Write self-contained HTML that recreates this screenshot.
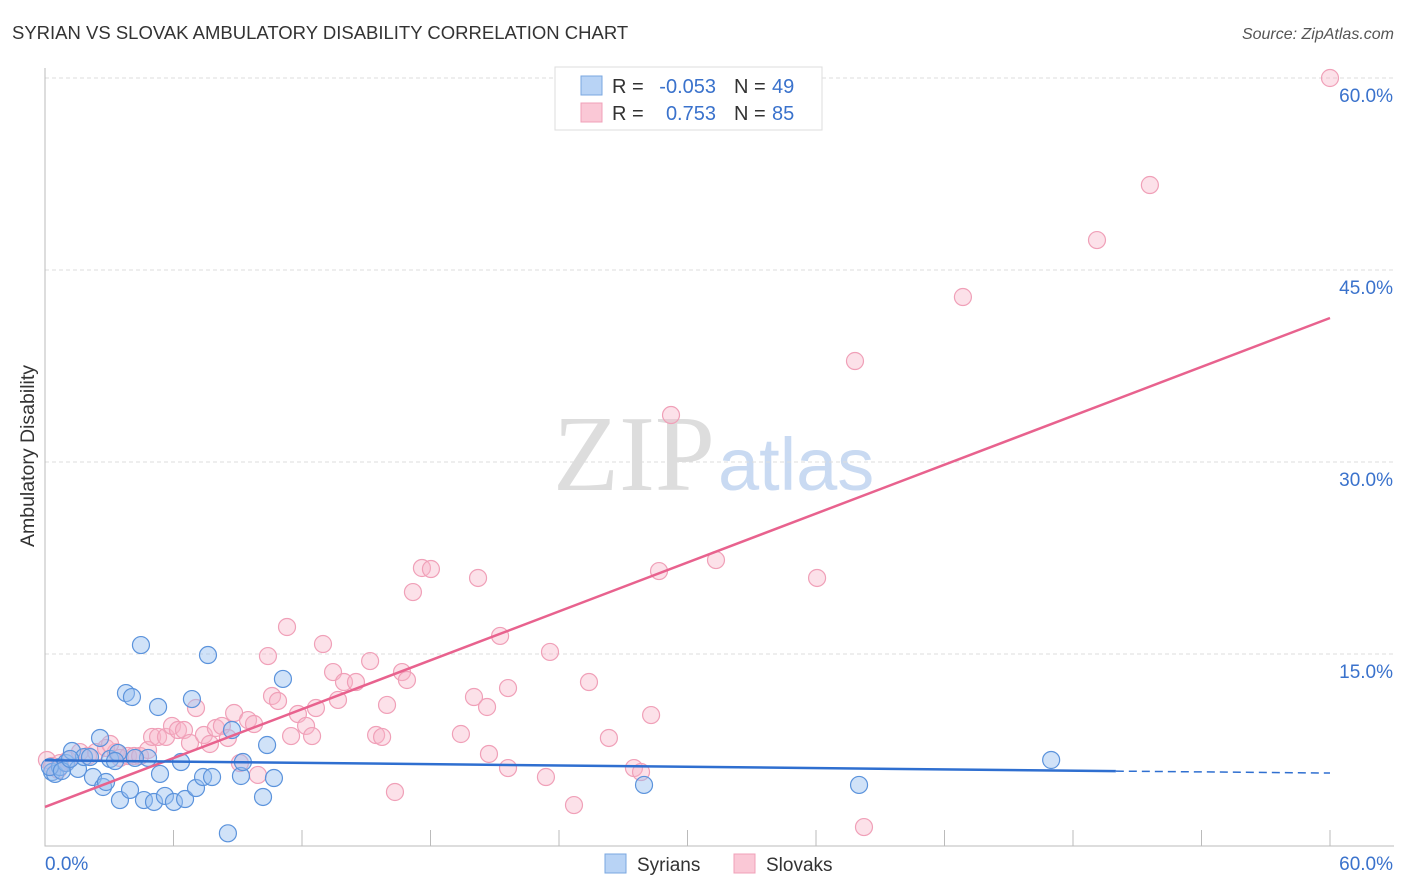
<!DOCTYPE html>
<html><head><meta charset="utf-8"><style>
body{margin:0;background:#fff;font-family:"Liberation Sans",sans-serif;}
svg{display:block}
</style></head><body>
<svg id="c" width="1406" height="892">
<text x="12" y="39" font-size="18.5" fill="#333">SYRIAN VS SLOVAK AMBULATORY DISABILITY CORRELATION CHART</text>
<text x="1394" y="39" font-size="16" fill="#555" font-style="italic" text-anchor="end">Source: ZipAtlas.com</text>
<text transform="translate(34,456) rotate(-90)" font-size="19.5" fill="#333" text-anchor="middle">Ambulatory Disability</text>
<text x="553" y="490" font-size="108" fill="#ddd" font-family="Liberation Serif,serif">ZIP</text>
<text x="718" y="490" font-size="74" fill="#c9daf2">atlas</text>
<g id="grid"></g><g id="pts"></g><g id="lines"></g>
<g>
<rect x="555" y="67" width="267" height="63" fill="#fff" stroke="#ddd"/>
<rect x="581" y="76" width="21" height="19" fill="#b8d3f5" stroke="#7aa7e0"/>
<rect x="581" y="103" width="21" height="19" fill="#fac8d6" stroke="#f0a0b8"/>
<text x="612" y="93" font-size="20" fill="#333">R =</text>
<text x="716" y="93" font-size="20" fill="#3a72cc" text-anchor="end">-0.053</text>
<text x="734" y="93" font-size="20" fill="#333">N =</text>
<text x="772" y="93" font-size="20" fill="#3a72cc">49</text>
<text x="612" y="120" font-size="20" fill="#333">R =</text>
<text x="716" y="120" font-size="20" fill="#3a72cc" text-anchor="end">0.753</text>
<text x="734" y="120" font-size="20" fill="#333">N =</text>
<text x="772" y="120" font-size="20" fill="#3a72cc">85</text>
</g>
<g>
<rect x="605" y="854" width="21" height="19" fill="#b8d3f5" stroke="#7aa7e0"/>
<text x="637" y="871" font-size="19" fill="#333">Syrians</text>
<rect x="734" y="854" width="21" height="19" fill="#fac8d6" stroke="#f0a0b8"/>
<text x="766" y="871" font-size="19" fill="#333">Slovaks</text>
</g>
</svg>
<script>
const yTicks=[15,30,45,60];
const xTickLabels=["0.0%","60.0%"];
const blueX=[0.33,0.47,0.70,0.98,1.26,1.54,1.82,2.10,2.24,2.57,2.71,2.85,3.04,3.41,3.50,3.78,3.97,4.06,4.48,4.62,4.81,5.09,5.28,5.37,5.60,6.02,6.35,6.54,6.86,7.05,7.38,7.61,7.80,8.54,8.73,9.15,9.24,10.18,10.37,10.69,11.11,27.97,38.01,46.98,0.23,0.79,1.17,3.27,4.20];
const blueY=[5.78,5.63,6.17,6.48,7.42,6.02,6.95,6.95,5.39,8.44,4.61,5.0,6.80,7.27,3.59,11.95,4.38,11.64,15.70,3.59,6.88,3.44,10.86,5.63,3.91,3.44,6.56,3.67,11.48,4.53,5.39,14.92,5.39,0.99,9.06,5.47,6.56,3.83,7.89,5.31,13.05,4.77,4.77,6.72,6.17,5.86,6.80,6.64,6.88];
const pinkX=[0.09,0.33,0.61,1.07,1.63,2.01,2.38,2.85,3.31,3.50,3.88,4.16,4.44,4.81,5.00,5.28,5.65,5.93,6.21,6.49,6.77,7.05,7.42,7.70,7.98,8.26,8.54,8.83,9.10,9.48,9.76,9.94,10.41,10.60,10.88,11.30,11.49,11.81,12.19,12.47,12.65,12.98,13.45,13.68,13.96,14.52,15.18,15.46,15.74,15.97,16.34,16.67,16.90,17.18,17.60,18.02,19.42,20.03,20.22,20.64,20.73,21.25,21.62,21.62,23.39,23.58,24.70,25.40,26.33,27.50,27.83,28.30,28.67,29.23,31.33,36.05,37.82,38.24,42.86,49.12,51.59,60.0,0.70,3.04];
const pinkY=[6.72,6.25,5.94,6.72,7.34,7.03,7.34,7.66,7.34,6.88,7.03,7.03,7.03,7.50,8.52,8.52,8.52,9.38,9.06,9.06,8.05,10.78,8.67,7.97,9.22,9.38,8.44,10.39,6.48,9.84,9.53,5.55,14.84,11.72,11.33,17.11,8.59,10.31,9.38,8.59,10.78,15.78,13.59,11.41,12.81,12.81,14.45,8.67,8.52,11.02,4.22,13.59,12.97,19.84,21.72,21.64,8.75,11.64,20.94,10.86,7.19,16.41,6.09,12.34,5.39,15.16,3.20,12.81,8.44,6.09,5.78,10.23,21.48,33.67,22.34,20.94,37.89,1.48,42.89,47.34,51.64,60.0,6.48,7.97];
const pinkLine=[[0,3.05],[60,41.25]];
const blueLine=[[0,6.7],[50,5.85],[60,5.7]];
const NS="http://www.w3.org/2000/svg";
const X=v=>45+v*(1285/60), Y=v=>846-v*12.8;
function mk(t,a,p){const e=document.createElementNS(NS,t);for(const k in a)e.setAttribute(k,a[k]);p.appendChild(e);return e;}
const grid=document.getElementById('grid');
yTicks.forEach(t=>{
 const l=mk('line',{x1:45,x2:1394,y1:Y(t),y2:Y(t),stroke:'#ddd','stroke-dasharray':'4,3'},grid);
 
 
 const tx=mk('text',{x:1393,y:Y(t)+24,'font-size':19,fill:'#3a72cc','text-anchor':'end'},grid);
 tx.textContent=t.toFixed(1)+'%';
 
 
});
const ax=mk('path',{d:'M45,68V846H1394',stroke:'#bbb',fill:'none'},grid);


for(let i=0;i<=10;i++){const x=X(i*6);const t=mk('line',{x1:x,x2:x,y1:830,y2:846,stroke:'#bbb'},grid);
 
 }
const xl0=mk('text',{x:45,y:870,'font-size':19,fill:'#3a72cc'},grid);xl0.textContent=xTickLabels[0];


const xl1=mk('text',{x:1393,y:870,'font-size':19,fill:'#3a72cc','text-anchor':'end'},grid);xl1.textContent=xTickLabels[1];


const pts=document.getElementById('pts');
pinkX.forEach((v,i)=>{const c=mk('circle',{cx:X(v),cy:Y(pinkY[i]),r:8.5,fill:'rgba(248,180,200,0.4)',stroke:'#f0a0b8','stroke-width':1.2},pts);
 
 });
blueX.forEach((v,i)=>{const c=mk('circle',{cx:X(v),cy:Y(blueY[i]),r:8.5,fill:'rgba(150,190,240,0.45)',stroke:'#5b93dc','stroke-width':1.2},pts);
 
 });
const lines=document.getElementById('lines');
const pl=mk('line',{x1:X(pinkLine[0][0]),y1:Y(pinkLine[0][1]),x2:X(pinkLine[1][0]),y2:Y(pinkLine[1][1]),stroke:'#e8628e','stroke-width':2.5},lines);


const bl=mk('line',{x1:X(blueLine[0][0]),y1:Y(blueLine[0][1]),x2:X(blueLine[1][0]),y2:Y(blueLine[1][1]),stroke:'#2f6fd0','stroke-width':2.5},lines);


const bd=mk('line',{x1:X(blueLine[1][0]),y1:Y(blueLine[1][1]),x2:X(blueLine[2][0]),y2:Y(blueLine[2][1]),stroke:'#2f6fd0','stroke-width':1.5,'stroke-dasharray':'8,5'},lines);


</script>
</body></html>
